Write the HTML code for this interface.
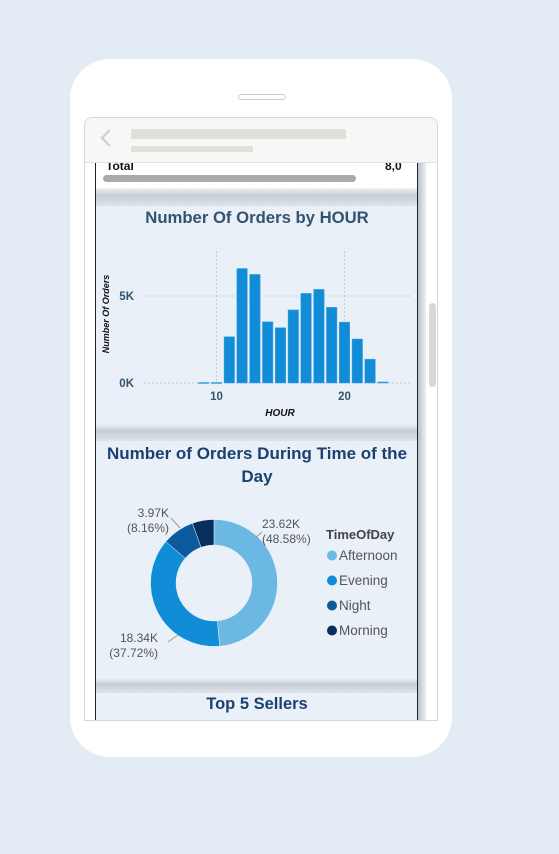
<!DOCTYPE html>
<html><head><meta charset="utf-8"><style>
body{margin:0;width:559px;height:854px;background:#e3ecf5;position:relative;overflow:hidden;font-family:"Liberation Sans",sans-serif}
.abs{position:absolute}
.grid{background-color:#f6f7f8;background-image:linear-gradient(90deg,#e6e8eb 1px,transparent 1px),linear-gradient(#e6e8eb 1px,transparent 1px);background-size:18px 18px}
.band{background:linear-gradient(#eef0f3,#b9c4d0 40%,#d9dee4);}
.title{position:absolute;left:0;width:322px;text-align:center;font-weight:bold}
</style></head><body>
<div class="abs" style="left:70px;top:59px;width:382px;height:698px;background:#fff;border-radius:40px"></div>
<div class="abs" style="left:238px;top:94px;width:48px;height:6px;border:1px solid #ccc;border-radius:4px;box-sizing:border-box"></div>
<div class="abs" style="left:84px;top:117px;width:354px;height:604px;border:1px solid #d6d6d6;border-radius:8px 8px 0 0;box-sizing:border-box;overflow:hidden;background:#fff">
 <div class="abs grid" style="left:11px;top:44px;width:321px;height:560px"></div>
 <div class="abs" style="left:10px;top:44px;width:1px;height:560px;background:#222"></div>
 <div class="abs" style="left:332px;top:44px;width:1px;height:560px;background:#222"></div>
 <div class="abs" style="left:333px;top:44px;width:8px;height:560px;background:linear-gradient(90deg,#b5c1ce,#eef1f4)"></div>
 <div class="abs" style="left:11px;top:44px;width:321px;height:27px;background:#fff"></div>
 <div class="abs" style="left:21px;top:41px;font-size:12px;font-weight:bold;color:#111">Total</div>
 <div class="abs" style="left:300px;top:41px;font-size:12px;font-weight:bold;color:#111">8,0</div>
 <div class="abs" style="left:18px;top:57px;width:253px;height:7px;background:#aaa;border-radius:4px"></div>
 <div class="abs band" style="left:11px;top:70px;width:321px;height:18px;opacity:.8"></div>
 <div class="abs" style="left:11px;top:88px;width:321px;height:218px;background:#e9f0f7">
  <div class="title" style="top:2px;font-size:16.7px;color:#34536e">Number Of Orders by HOUR</div>
  <svg id="bar" width="321" height="218" class="abs" style="left:0;top:0"></svg>
 </div>
 <div class="abs band" style="left:11px;top:306px;width:321px;height:17px;opacity:.8"></div>
 <div class="abs" style="left:11px;top:323px;width:321px;height:237px;background:#e9f0f7">
  <div class="title" style="top:1px;font-size:17px;line-height:23px;color:#1b4170">Number of Orders During Time of the<br>Day</div>
  <svg id="donut" width="321" height="237" class="abs" style="left:0;top:0"></svg>
 </div>
 <div class="abs band" style="left:11px;top:560px;width:321px;height:15px;opacity:.8"></div>
 <div class="abs" style="left:11px;top:575px;width:321px;height:30px;background:#e9f0f7">
  <div class="title" style="top:2px;font-size:16.5px;color:#1b4170">Top 5 Sellers</div>
 </div>
 <div class="abs" style="left:0;top:0;width:354px;height:44px;background:#f8f7f5;border-bottom:1px solid #e2e0dd"></div>
 <div class="abs" style="left:18px;top:14px;width:10px;height:10px;border-left:2px solid #ccc;border-bottom:2px solid #ccc;transform:rotate(45deg)"></div>
 <div class="abs" style="left:46px;top:11px;width:215px;height:10px;background:#e0dfdc"></div>
 <div class="abs" style="left:46px;top:28px;width:122px;height:6px;background:#e0dfdc"></div>
</div>
<div class="abs" style="left:429px;top:303px;width:7px;height:84px;background:#d8d8d8;border-radius:4px"></div>
<script>
const hours=[9,10,11,12,13,14,15,16,17,18,19,20,21,22,23];
const orders=[30,30,2660,6580,6240,3520,3180,4200,5150,5380,4350,3500,2530,1370,60];
const yTicks=[0,5000];const yTickLabels=["0K","5K"];
const xTicks=[10,20];
const segNames=["Afternoon","Evening","Night","Morning"];
const segValues=[23620,18340,3970,2690];
const segLabels=["23.62K\n(48.58%)","18.34K\n(37.72%)",null,"3.97K\n(8.16%)"];
const NS="http://www.w3.org/2000/svg";
function mk(p,t,a){const e=document.createElementNS(NS,t);for(const k in a)e.setAttribute(k,a[k]);p.appendChild(e);return e;}
const bs=document.getElementById('bar');
const x=h=>120.5+(h-10)*12.8, y=v=>177-v/5000*87;
yTicks.forEach((t,i)=>{const g=mk(bs,'line',{x1:48,x2:316,y1:y(t),y2:y(t),stroke:'#c8cdd3','stroke-dasharray':'2,2'});
const l=mk(bs,'text',{x:38,y:y(t)+4,'text-anchor':'end','font-size':11.5,'font-weight':'bold',fill:'#34536e'});l.textContent=yTickLabels[i];});
xTicks.forEach(t=>{const g=mk(bs,'line',{x1:x(t),x2:x(t),y1:45,y2:177,stroke:'#c8cdd3','stroke-dasharray':'2,2'});
const l=mk(bs,'text',{x:x(t),y:194,'text-anchor':'middle','font-size':11.5,'font-weight':'bold',fill:'#34536e'});l.textContent=t;});
hours.forEach((h,i)=>{const r=mk(bs,'rect',{x:x(h)-5.25,y:y(orders[i]),width:10.5,height:Math.max(1,177-y(orders[i])),fill:'#118dd8',stroke:'#4aa3e0','stroke-width':0.5});});
let t=mk(bs,'text',{x:184,y:210,'text-anchor':'middle','font-size':10,'font-weight':'bold','font-style':'italic',fill:'#111'});t.textContent='HOUR';
t=mk(bs,'text',{x:0,y:0,'text-anchor':'middle','font-size':9,'font-weight':'bold','font-style':'italic',fill:'#111',transform:'translate(13,108) rotate(-90)'});t.textContent='Number Of Orders';
const ds=document.getElementById('donut');
const cx=118,cy=142,R=63.5,r=38,colors=['#6bb9e3','#118dd8','#0c5a9e','#062f5e'];
const tot=segValues.reduce((a,b)=>a+b,0);let a0=-Math.PI/2;
const pt=(a,rr)=>[cx+rr*Math.cos(a),cy+rr*Math.sin(a)];
segValues.forEach((v,i)=>{const a1=a0+v/tot*2*Math.PI,lg=(a1-a0)>Math.PI?1:0;
const [x1,y1]=pt(a0,R),[x2,y2]=pt(a1,R),[x3,y3]=pt(a1,r),[x4,y4]=pt(a0,r);
const p=mk(ds,'path',{d:`M${x1},${y1}A${R},${R} 0 ${lg} 1 ${x2},${y2}L${x3},${y3}A${r},${r} 0 ${lg} 0 ${x4},${y4}Z`,fill:colors[i],stroke:'#e9f0f7','stroke-width':0.5});
a0=a1;});
const lab=[[166,87,'start',[[158,98],[166,91]]],[62,201,'end',[[72,201],[82,194]]],null,[73,76,'end',[[75,77],[84,87]]]];
const labIdx=[0,1,3];
labIdx.forEach(i=>{const L=lab[i];const parts=segLabels[i].split('\n');
const ln=mk(ds,'polyline',{points:L[3].map(q=>q.join(',')).join(' '),fill:'none',stroke:'#999'});
const tx=mk(ds,'text',{x:L[0],y:L[1],'text-anchor':L[2],'font-size':12,fill:'#555'});
parts.forEach((s,j)=>{const ts=mk(tx,'tspan',{x:L[0],dy:j?15:0});ts.textContent=s;});});
t=mk(ds,'text',{x:230,y:98,'font-size':13,'font-weight':'bold',fill:'#444'});t.textContent='TimeOfDay';
segNames.forEach((n,i)=>{const yy=119+i*25;const c=mk(ds,'circle',{cx:236,cy:yy-4.5,r:5,fill:colors[i]});
const l=mk(ds,'text',{x:243,y:yy,'font-size':13.5,fill:'#555'});l.textContent=n;});
</script>
</body></html>
